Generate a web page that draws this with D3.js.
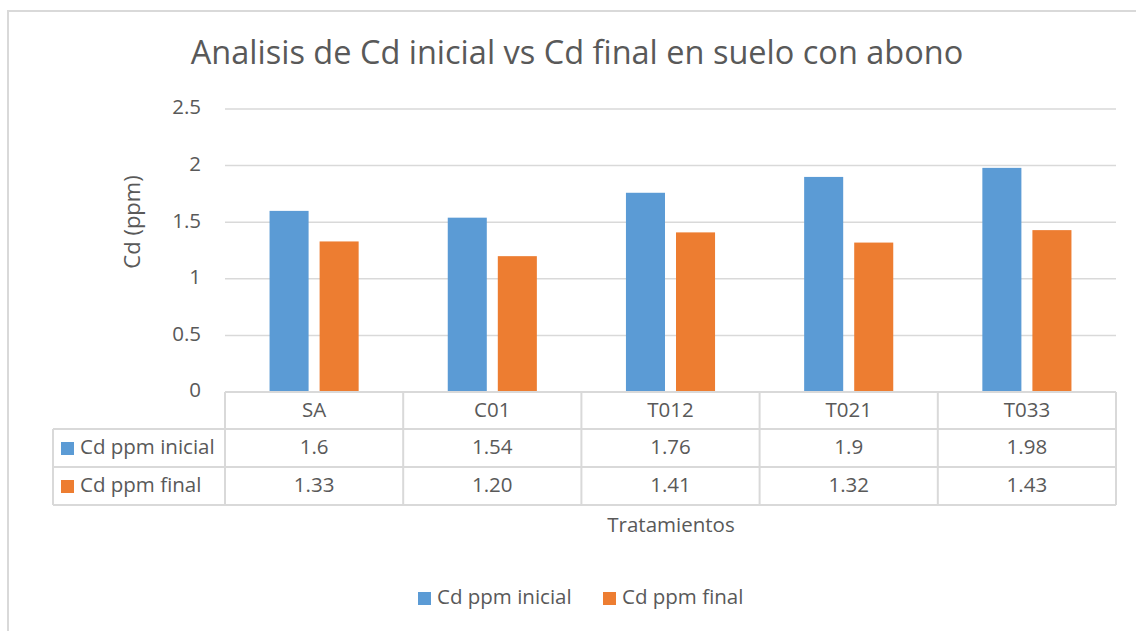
<!DOCTYPE html>
<html>
<head>
<meta charset="utf-8">
<script src="https://cdn.jsdelivr.net/npm/d3@7"></script>
<style>
  body { margin: 0; background: #fff; }
  svg text { font-family: "Open Sans", Lato, sans-serif; fill: #595959; }
</style>
</head>
<body>
<svg id="chart"></svg>
<script>
const categories = ['SA', 'C01', 'T012', 'T021', 'T033'];
const series = ['Cd ppm inicial', 'Cd ppm final'];
const inicial = [1.6, 1.54, 1.76, 1.9, 1.98];
const final = [1.33, 1.20, 1.41, 1.32, 1.43];
const inicialLabels = ['1.6', '1.54', '1.76', '1.9', '1.98'];
const finalLabels = ['1.33', '1.20', '1.41', '1.32', '1.43'];
const yTicks = [0, 0.5, 1, 1.5, 2, 2.5];
const colors = ['#5B9BD5', '#ED7D31'];

let width = 1136, height = 631;
let plot = { left: 225, right: 1116, top: 109, bottom: 392 };
let rowH = [392, 429, 467, 505];
let grid = '#D9D9D9';
let fs = '20.5px';

let svg = d3.select('#chart').attr('width', width).attr('height', height);

// chart frame
svg.append('rect')
  .attr('x', 8).attr('y', 11)
  .attr('width', 1140).attr('height', 640)
  .attr('fill', 'none').attr('stroke', grid).attr('stroke-width', 2);

svg.append('text')
  .attr('x', 577).attr('y', 55)
  .attr('text-anchor', 'middle').attr('dominant-baseline', 'middle')
  .style('font-size', '32.5px')
  .text('Analisis de Cd inicial vs Cd final en suelo con abono');

let yScale = d3.scaleLinear().domain([0, 2.5]).range([plot.bottom, plot.top]);
let x0 = d3.scaleBand().domain(categories).range([plot.left, plot.right]);
let bw = x0.bandwidth();
let x1 = d3.scaleBand().domain(series)
  .range([bw * 0.25, bw * 0.75]).paddingInner(0.22);

// gridlines + tick labels
svg.selectAll('.grid').data(yTicks.filter(d => d > 0)).enter()
  .append('line')
  .attr('x1', plot.left).attr('x2', plot.right)
  .attr('y1', d => yScale(d)).attr('y2', d => yScale(d))
  .attr('stroke', grid).attr('stroke-width', 1.5);

svg.selectAll('.ytick').data(yTicks).enter()
  .append('text')
  .attr('x', 201)
  .attr('y', d => yScale(d))
  .attr('text-anchor', 'end').attr('dominant-baseline', 'middle')
  .style('font-size', fs)
  .text(d => d);

svg.append('text')
  .attr('transform', 'translate(134, 222) rotate(-90)')
  .attr('text-anchor', 'middle').attr('dominant-baseline', 'middle')
  .style('font-size', '22px')
  .text('Cd (ppm)');

// bars
let values = [inicial, final];
series.forEach((s, si) => {
  svg.selectAll('.bar' + si).data(categories).enter()
    .append('rect')
    .attr('x', d => x0(d) + x1(s))
    .attr('width', x1.bandwidth())
    .attr('y', (d, i) => yScale(values[si][i]))
    .attr('height', (d, i) => yScale(0) - yScale(values[si][i]))
    .attr('fill', colors[si]);
});

// data table
let tbl = svg.append('g').attr('stroke', grid).attr('stroke-width', 2);
tbl.append('line').attr('x1', plot.left).attr('x2', plot.right)
  .attr('y1', rowH[0]).attr('y2', rowH[0]);
[1, 2, 3].forEach(r => {
  tbl.append('line').attr('x1', 53).attr('x2', plot.right)
    .attr('y1', rowH[r]).attr('y2', rowH[r]);
});
tbl.append('line').attr('x1', 53).attr('x2', 53)
  .attr('y1', rowH[1]).attr('y2', rowH[3]);
categories.concat(['end']).forEach((c, i) => {
  let x = i < categories.length ? x0(c) : plot.right;
  tbl.append('line').attr('x1', x).attr('x2', x)
    .attr('y1', rowH[0]).attr('y2', rowH[3]);
});

svg.selectAll('.cat').data(categories).enter()
  .append('text')
  .attr('x', d => x0(d) + bw / 2)
  .attr('y', (rowH[0] + rowH[1]) / 2 + 1)
  .attr('text-anchor', 'middle').attr('dominant-baseline', 'middle')
  .style('font-size', fs)
  .text(d => d);

let labels = [inicialLabels, finalLabels];
series.forEach((s, si) => {
  let cy = (rowH[si + 1] + rowH[si + 2]) / 2 + 1;
  svg.append('rect')
    .attr('x', 61).attr('y', cy - 7)
    .attr('width', 13).attr('height', 13)
    .attr('fill', colors[si]);
  svg.append('text')
    .attr('x', 80).attr('y', cy)
    .attr('dominant-baseline', 'middle')
    .style('font-size', fs)
    .text(s);
  svg.selectAll('.val' + si).data(categories).enter()
    .append('text')
    .attr('x', d => x0(d) + bw / 2)
    .attr('y', cy)
    .attr('text-anchor', 'middle').attr('dominant-baseline', 'middle')
    .style('font-size', fs)
    .text((d, i) => labels[si][i]);
});

svg.append('text')
  .attr('x', 671).attr('y', 527)
  .attr('text-anchor', 'middle').attr('dominant-baseline', 'middle')
  .style('font-size', fs)
  .text('Tratamientos');

// legend
let legendX = [418, 603];
series.forEach((s, si) => {
  svg.append('rect')
    .attr('x', legendX[si]).attr('y', 592)
    .attr('width', 13).attr('height', 13)
    .attr('fill', colors[si]);
  svg.append('text')
    .attr('x', legendX[si] + 19).attr('y', 599)
    .attr('dominant-baseline', 'middle')
    .style('font-size', fs)
    .text(s);
});
</script>
</body>
</html>
